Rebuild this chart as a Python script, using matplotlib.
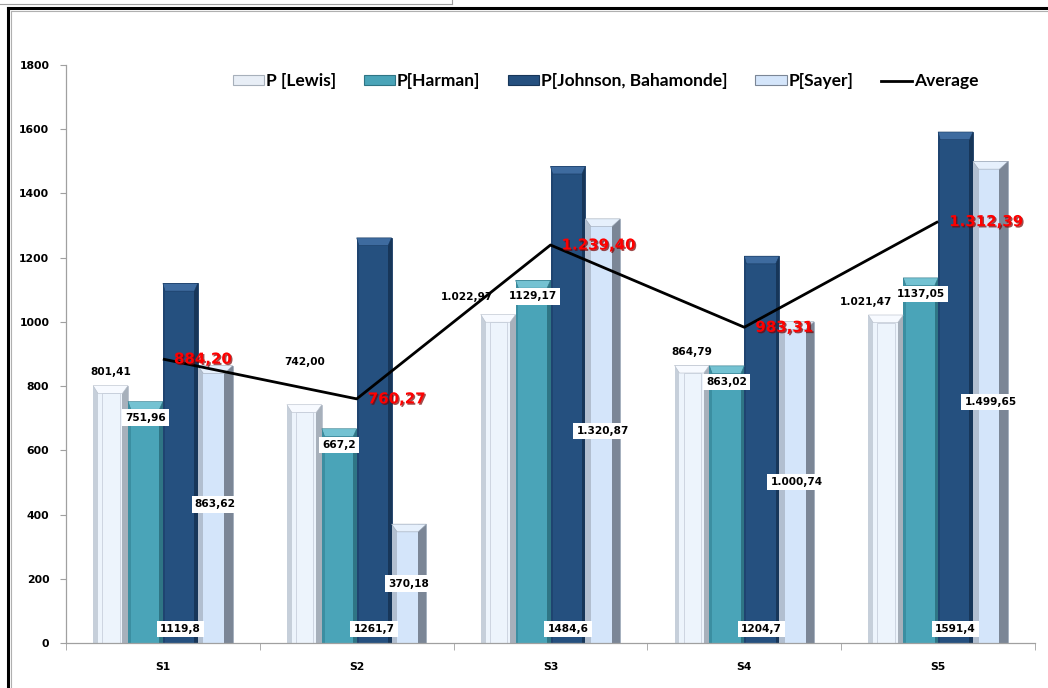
# Recreate the S1..S5 power comparison chart (4 bar series + average line)
import numpy as np
import matplotlib.pyplot as plt
import matplotlib.patheffects as pe
from matplotlib.patches import Polygon, Patch
from matplotlib.lines import Line2D

# data
categories = ['S1', 'S2', 'S3', 'S4', 'S5']
lewis = [801.41, 742.00, 1022.97, 864.79, 1021.47]
harman = [751.96, 667.2, 1129.17, 863.02, 1137.05]
johnson = [1119.8, 1261.7, 1484.6, 1204.7, 1591.4]
sayer = [863.62, 370.18, 1320.87, 1000.74, 1499.65]
average = [884.20, 760.27, 1239.40, 983.31, 1312.39]
series_names = ['P [Lewis]', 'P[Harman]', 'P[Johnson, Bahamonde]', 'P[Sayer]', 'Average']

# label placement tweaks for the Lewis labels (moved by hand in the original)
lewis_lbl_dx = [0.0, 0.0, -0.16, 0.0, -0.10]
lewis_lbl_dy = [43, 133, 55, 41, 41]


def eu(v):
    return f"{v:,.2f}".replace(',', 'X').replace('.', ',').replace('X', '.')


def gen(v):
    return f"{v:g}".replace('.', ',')


fig = plt.figure(figsize=(10.48, 6.88), dpi=100)
ax = fig.add_axes([66 / 1048, 45 / 688, 969 / 1048, 578 / 688])

x = np.arange(len(categories))
w = 0.18
offs = np.array([-1.5, -0.5, 0.5, 1.5]) * w
cap = 24


def bevel_bar(xs, vals, face, light, dark, top, lw_frac, rw_frac, z, edge):
    vals = np.asarray(vals)
    ax.bar(xs, vals, w, color=face, edgecolor=edge, linewidth=0.6, zorder=z)
    ax.bar(xs - w / 2, vals, w * lw_frac, align='edge', color=light,
           linewidth=0, zorder=z + 0.1)
    ax.bar(xs + w / 2 - w * rw_frac, vals, w * rw_frac, align='edge',
           color=dark, linewidth=0, zorder=z + 0.1)
    for xi, v in zip(xs, vals):
        ax.add_patch(Polygon([(xi - w / 2, v), (xi + w / 2, v),
                              (xi + w / 2 - w * rw_frac, v - cap),
                              (xi - w / 2 + w * lw_frac, v - cap)],
                             closed=True, fc=top, ec=edge, lw=0.4, zorder=z + 0.2))


bevel_bar(x + offs[0], lewis, '#edf4fc', '#c6cfda', '#a7b0bb', '#f7faff', 0.14, 0.16, 2, '#b4bcc8')
bevel_bar(x + offs[1], harman, '#4aa4b8', '#3b8ea1', '#2f7585', '#74c2d2', 0.08, 0.1, 2, '#33798a')
bevel_bar(x + offs[2], johnson, '#25507f', '#1f4470', '#173659', '#3e6b9f', 0.06, 0.1, 2, '#183a62')
bevel_bar(x + offs[3], sayer, '#d4e5fa', '#b2bfd0', '#7b8696', '#e6f0fc', 0.16, 0.24, 2, '#9aa5b4')

# inner outline on the Lewis bars
ax.bar(x + offs[0] + w * 0.01, np.asarray(lewis) - cap, w * 0.5, bottom=0,
       fill=False, edgecolor='#c8d0dc', linewidth=0.6, zorder=2.3)

# average line
ax.plot(x, average, color='black', lw=2, zorder=7, solid_capstyle='butt')

fs = 7.6
box = dict(boxstyle='square,pad=0.3', fc='white', ec='none')
for i in range(len(categories)):
    ax.text(x[i] + offs[0] + lewis_lbl_dx[i], lewis[i] + lewis_lbl_dy[i], eu(lewis[i]),
            ha='center', va='center', fontsize=fs, fontweight='bold', zorder=6)
    ax.text(x[i] + offs[1], harman[i] - 50, gen(harman[i]), ha='center', va='center',
            fontsize=fs, fontweight='bold', bbox=box, zorder=8)
    ax.text(x[i] + offs[2], 44, gen(johnson[i]), ha='center', va='center',
            fontsize=fs, fontweight='bold', bbox=box, zorder=8)
    ax.text(x[i] + offs[3], sayer[i] / 2, eu(sayer[i]), ha='center', va='center',
            fontsize=fs, fontweight='bold', bbox=box, zorder=8)
    ax.text(x[i] + 0.057, average[i], eu(average[i]), ha='left', va='center',
            fontsize=10.8, fontweight='bold', color='#ff0000', zorder=9,
            path_effects=[pe.withSimplePatchShadow(offset=(1, -1),
                                                   shadow_rgbFace='#7a0000', alpha=0.7)])

ax.set_xlim(-0.5, len(categories) - 0.5)
ax.set_ylim(0, 1800)
ax.set_yticks(np.arange(0, 1801, 200))
ax.set_xticks(x)
ax.set_xticklabels(categories)
ax.set_xticks(np.arange(-0.5, len(categories), 1), minor=True)
ax.tick_params(axis='x', which='major', length=0, pad=14)
ax.tick_params(axis='x', which='minor', length=5, direction='out', color='#a0a0a0')
ax.tick_params(axis='y', length=4, direction='out', color='#a0a0a0', pad=8)
for lab in ax.get_xticklabels() + ax.get_yticklabels():
    lab.set_fontweight('bold')
    lab.set_fontsize(7.8)
for s in ['top', 'right']:
    ax.spines[s].set_visible(False)
for s in ['left', 'bottom']:
    ax.spines[s].set_color('#a0a0a0')
    ax.spines[s].set_linewidth(0.9)

# legend
handles = [
    Patch(fc='#e8eef6', ec='#a7b0bb', lw=0.8),
    Patch(fc='#4aa4b8', ec='#2f7585', lw=0.8),
    Patch(fc='#25507f', ec='#173659', lw=0.8),
    Patch(fc='#d4e5fa', ec='#7b8696', lw=0.8),
    Line2D([0], [0], color='black', lw=2),
]
fig.legend(handles, series_names, loc='center', bbox_to_anchor=(0.578, 0.882),
           ncol=5, frameon=False, handlelength=1.8, handleheight=0.5,
           handletextpad=0.1, columnspacing=1.6,
           prop={'family': 'Lato', 'weight': 'bold', 'size': 12.5})

# outer frame from the original screenshot
fig.add_artist(Line2D([8 / 1048, 1], [1 - 8 / 688, 1 - 8 / 688], color='black', lw=2.2))
fig.add_artist(Line2D([8 / 1048, 8 / 1048], [0, 1 - 8 / 688], color='black', lw=2.2))
fig.add_artist(Line2D([11 / 1048, 1], [1 - 11 / 688, 1 - 11 / 688], color='#b0b0b0', lw=0.8))
fig.add_artist(Line2D([11 / 1048, 11 / 1048], [0, 1 - 11 / 688], color='#b0b0b0', lw=0.8))
fig.add_artist(Line2D([0, 452 / 1048], [1 - 4 / 688, 1 - 4 / 688], color='#a0a0a0', lw=0.8))
fig.add_artist(Line2D([452 / 1048, 452 / 1048], [1 - 4 / 688, 1], color='#a0a0a0', lw=0.8))

fig.savefig('out.png', dpi=100)
